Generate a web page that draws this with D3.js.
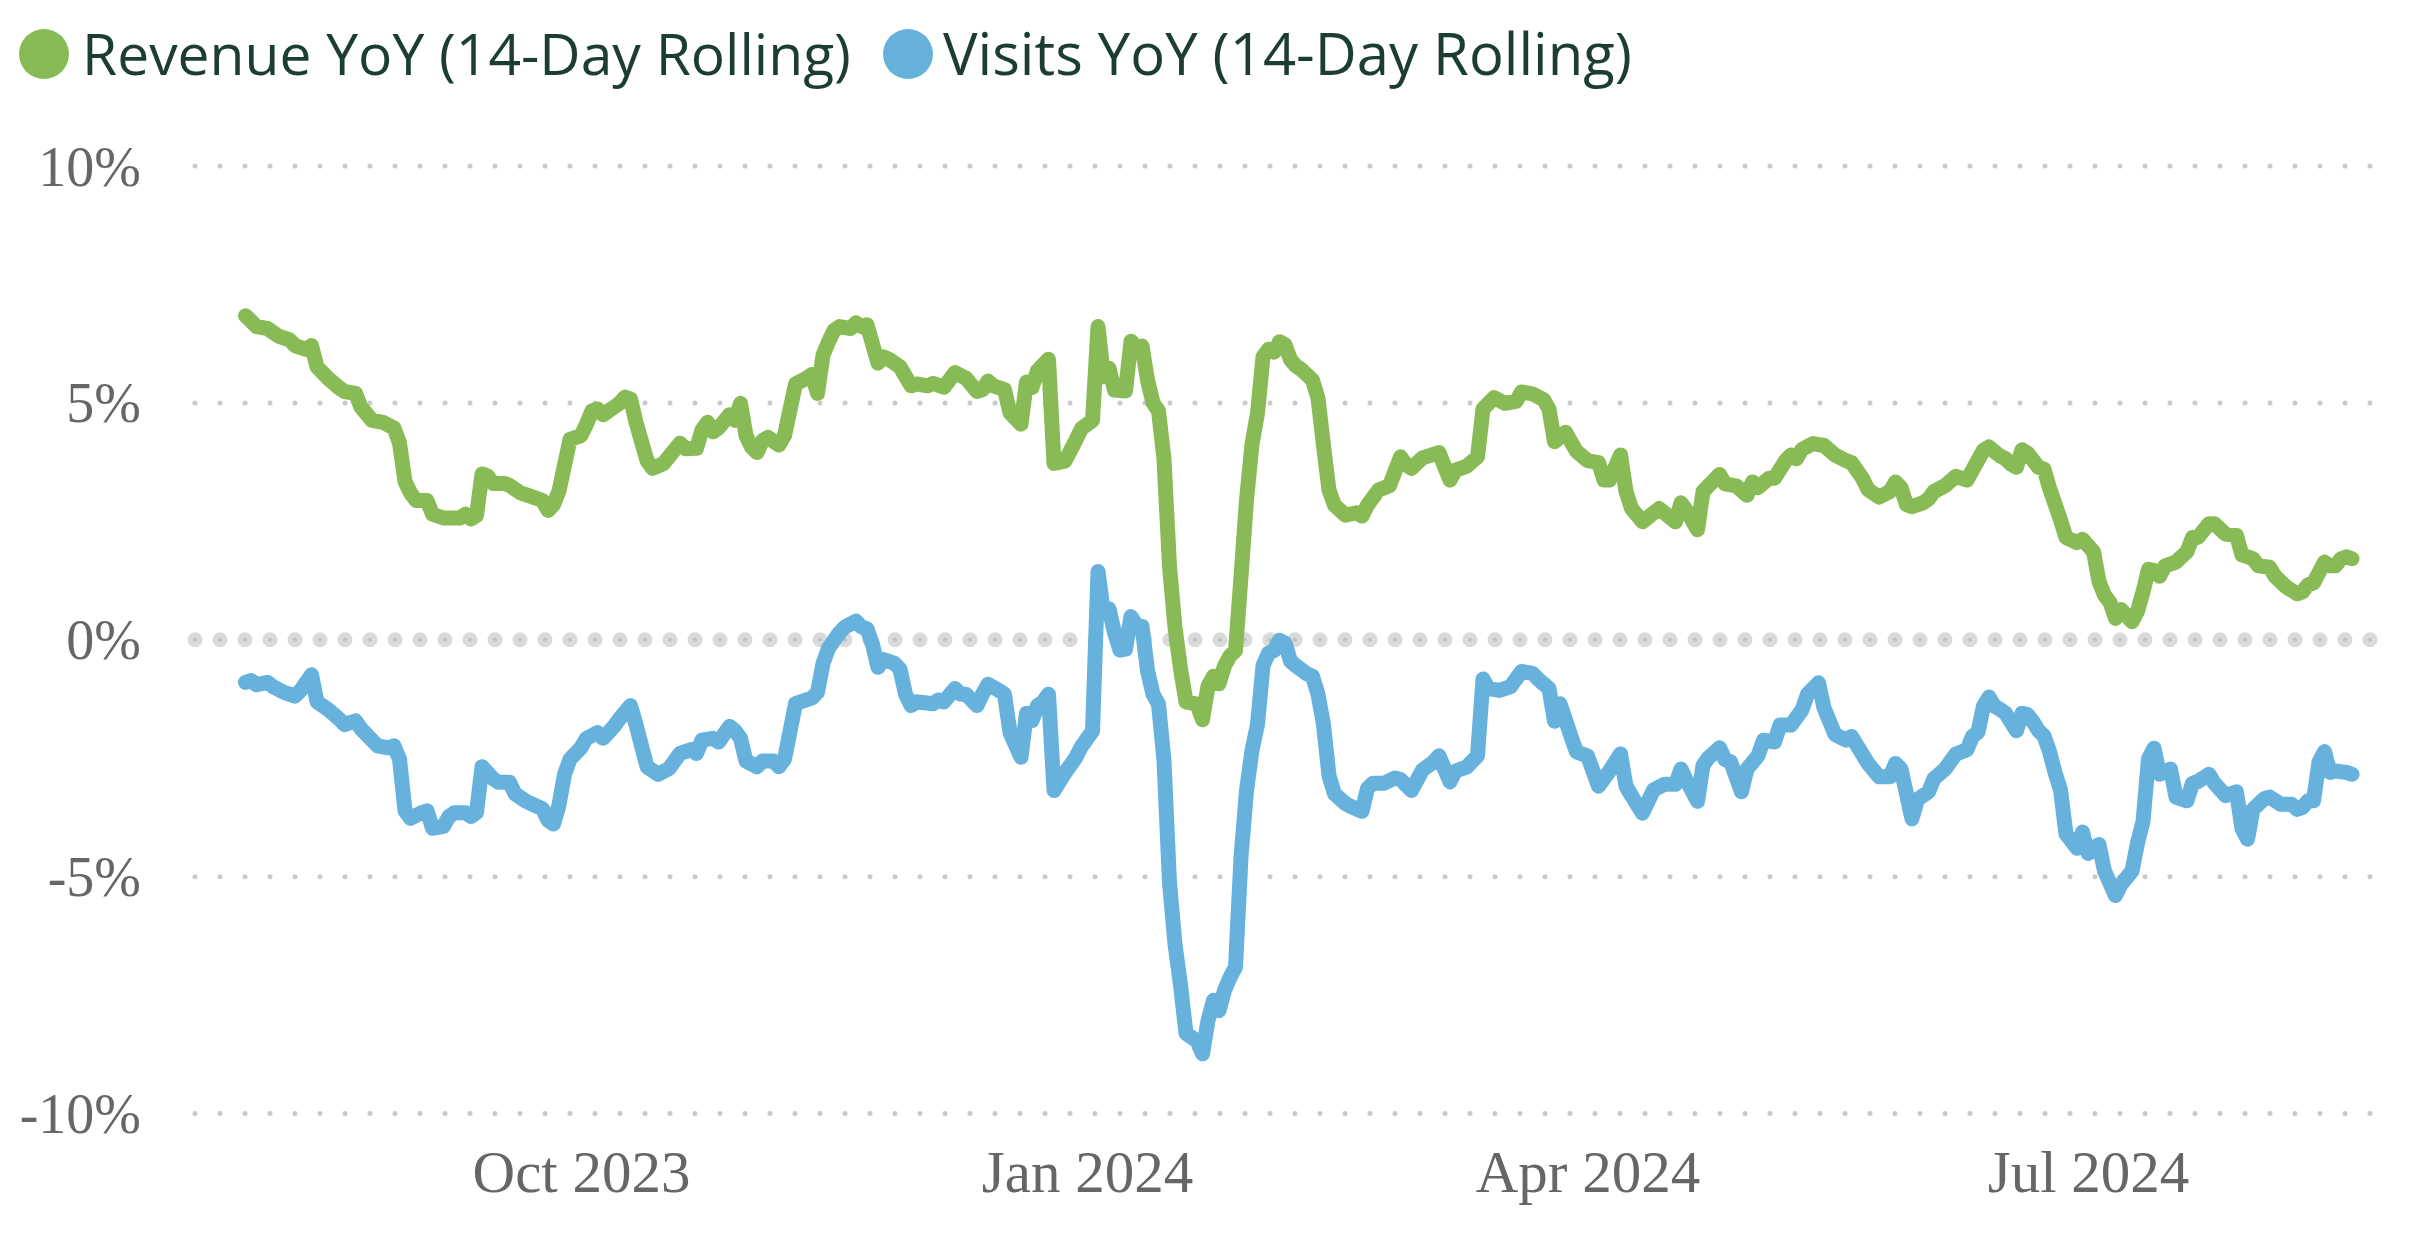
<!DOCTYPE html>
<html><head><meta charset="utf-8">
<script src="https://cdn.jsdelivr.net/npm/d3@7"></script>
<style>html,body{margin:0;padding:0;background:#fff;} svg{display:block}</style>
</head><body>
<svg id="chart" width="2428" height="1234"></svg>
<script>
const seriesNames = ["Revenue YoY (14-Day Rolling)", "Visits YoY (14-Day Rolling)"];
const seriesColors = ["#88bb55", "#66b2dd"];
const yTicks = [-10, -5, 0, 5, 10];
const xTicks = ["2023-10-01", "2024-01-01", "2024-04-01", "2024-07-01"];

const revenueYoY = [
["2023-08-01",6.84],["2023-08-02",6.73],["2023-08-03",6.61],["2023-08-05",6.57],["2023-08-07",6.41],["2023-08-09",6.33],["2023-08-10",6.21],["2023-08-12",6.13],["2023-08-13",6.21],["2023-08-14",5.76],["2023-08-16",5.52],["2023-08-18",5.32],["2023-08-19",5.24],["2023-08-21",5.20],["2023-08-22",4.91],["2023-08-24",4.63],["2023-08-26",4.59],["2023-08-28",4.47],["2023-08-29",4.15],["2023-08-30",3.34],["2023-08-31",3.10],
["2023-09-01",2.94],["2023-09-03",2.94],["2023-09-04",2.65],["2023-09-06",2.57],["2023-09-09",2.57],["2023-09-10",2.65],["2023-09-11",2.55],["2023-09-12",2.62],["2023-09-13",3.50],["2023-09-14",3.46],["2023-09-15",3.30],["2023-09-17",3.30],["2023-09-18",3.26],["2023-09-20",3.10],["2023-09-22",3.02],["2023-09-24",2.94],["2023-09-25",2.73],["2023-09-26",2.85],["2023-09-27",3.14],["2023-09-29",4.23],
["2023-10-01",4.31],["2023-10-02",4.55],["2023-10-03",4.83],["2023-10-04",4.87],["2023-10-05",4.75],["2023-10-07",4.91],["2023-10-08",4.99],["2023-10-09",5.12],["2023-10-10",5.08],["2023-10-11",4.59],["2023-10-13",3.78],["2023-10-14",3.62],["2023-10-16",3.72],["2023-10-19",4.15],["2023-10-20",4.03],["2023-10-22",4.04],["2023-10-23",4.43],["2023-10-24",4.59],["2023-10-25",4.39],["2023-10-26",4.47],["2023-10-28",4.75],["2023-10-29",4.63],["2023-10-30",4.99],["2023-10-31",4.31],
["2023-11-01",4.07],["2023-11-02",3.95],["2023-11-03",4.20],["2023-11-04",4.27],["2023-11-06",4.11],["2023-11-07",4.31],["2023-11-09",5.40],["2023-11-11",5.52],["2023-11-12",5.60],["2023-11-13",5.20],["2023-11-14",6.01],["2023-11-15",6.29],["2023-11-16",6.53],["2023-11-17",6.61],["2023-11-19",6.57],["2023-11-20",6.69],["2023-11-21",6.61],["2023-11-22",6.65],["2023-11-24",5.84],["2023-11-25",5.97],["2023-11-26",5.92],["2023-11-28",5.76],["2023-11-30",5.36],
["2023-12-01",5.40],["2023-12-03",5.36],["2023-12-04",5.41],["2023-12-06",5.33],["2023-12-08",5.64],["2023-12-10",5.52],["2023-12-12",5.24],["2023-12-13",5.28],["2023-12-14",5.46],["2023-12-15",5.36],["2023-12-17",5.28],["2023-12-18",4.79],["2023-12-20",4.55],["2023-12-21",5.44],["2023-12-22",5.32],["2023-12-23",5.68],["2023-12-25",5.92],["2023-12-26",3.72],["2023-12-28",3.77],["2023-12-30",4.22],["2023-12-31",4.46],
["2024-01-02",4.63],["2024-01-03",6.61],["2024-01-04",5.55],["2024-01-05",5.73],["2024-01-06",5.27],["2024-01-08",5.25],["2024-01-09",6.30],["2024-01-10",6.18],["2024-01-11",6.20],["2024-01-12",5.48],["2024-01-13",5.00],["2024-01-14",4.83],["2024-01-15",3.81],["2024-01-16",1.55],["2024-01-17",0.26],["2024-01-18",-0.61],["2024-01-19",-1.31],["2024-01-21",-1.36],["2024-01-22",-1.69],["2024-01-23",-0.98],["2024-01-24",-0.77],["2024-01-25",-0.93],["2024-01-26",-0.55],["2024-01-27",-0.34],["2024-01-28",-0.23],["2024-01-29",1.33],["2024-01-30",2.95],["2024-01-31",4.13],
["2024-02-01",4.78],["2024-02-02",5.97],["2024-02-03",6.13],["2024-02-04",6.07],["2024-02-05",6.29],["2024-02-06",6.23],["2024-02-07",5.91],["2024-02-08",5.78],["2024-02-09",5.70],["2024-02-10",5.59],["2024-02-11",5.48],["2024-02-12",5.10],["2024-02-13",4.10],["2024-02-14",3.16],["2024-02-15",2.84],["2024-02-17",2.63],["2024-02-19",2.68],["2024-02-20",2.61],["2024-02-21",2.84],["2024-02-23",3.16],["2024-02-25",3.25],["2024-02-27",3.86],["2024-02-28",3.70],["2024-02-29",3.62],
["2024-03-02",3.84],["2024-03-05",3.95],["2024-03-07",3.37],["2024-03-08",3.58],["2024-03-10",3.66],["2024-03-12",3.86],["2024-03-13",4.87],["2024-03-15",5.11],["2024-03-17",4.99],["2024-03-19",5.03],["2024-03-20",5.23],["2024-03-22",5.19],["2024-03-24",5.07],["2024-03-25",4.87],["2024-03-26",4.18],["2024-03-28",4.38],["2024-03-30",3.98],
["2024-04-01",3.78],["2024-04-03",3.74],["2024-04-04",3.37],["2024-04-05",3.37],["2024-04-07",3.90],["2024-04-08",3.13],["2024-04-09",2.77],["2024-04-11",2.49],["2024-04-14",2.77],["2024-04-17",2.49],["2024-04-18",2.89],["2024-04-19",2.73],["2024-04-21",2.32],["2024-04-22",3.13],["2024-04-25",3.49],["2024-04-26",3.29],["2024-04-28",3.25],["2024-04-30",3.05],
["2024-05-01",3.33],["2024-05-02",3.21],["2024-05-04",3.41],["2024-05-05",3.41],["2024-05-07",3.78],["2024-05-08",3.90],["2024-05-09",3.82],["2024-05-10",4.02],["2024-05-12",4.14],["2024-05-14",4.10],["2024-05-16",3.90],["2024-05-18",3.78],["2024-05-19",3.74],["2024-05-21",3.41],["2024-05-22",3.17],["2024-05-24",3.01],["2024-05-26",3.13],["2024-05-27",3.33],["2024-05-28",3.21],["2024-05-29",2.85],["2024-05-30",2.81],
["2024-06-01",2.89],["2024-06-02",2.97],["2024-06-03",3.13],["2024-06-05",3.25],["2024-06-07",3.45],["2024-06-09",3.37],["2024-06-10",3.58],["2024-06-12",4.00],["2024-06-13",4.07],["2024-06-15",3.88],["2024-06-16",3.82],["2024-06-17",3.71],["2024-06-18",3.64],["2024-06-19",4.01],["2024-06-20",3.94],["2024-06-21",3.79],["2024-06-22",3.64],["2024-06-23",3.60],["2024-06-24",3.20],["2024-06-26",2.53],["2024-06-27",2.16],["2024-06-29",2.05],["2024-06-30",2.12],
["2024-07-02",1.86],["2024-07-03",1.23],["2024-07-04",0.94],["2024-07-05",0.79],["2024-07-06",0.45],["2024-07-07",0.64],["2024-07-09",0.38],["2024-07-10",0.60],["2024-07-11",1.01],["2024-07-12",1.49],["2024-07-13",1.46],["2024-07-14",1.34],["2024-07-15",1.56],["2024-07-17",1.64],["2024-07-19",1.86],["2024-07-20",2.16],["2024-07-21",2.16],["2024-07-23",2.45],["2024-07-24",2.45],["2024-07-26",2.23],["2024-07-28",2.20],["2024-07-29",1.79],["2024-07-31",1.71],
["2024-08-01",1.56],["2024-08-03",1.53],["2024-08-04",1.34],["2024-08-06",1.12],["2024-08-08",0.97],["2024-08-09",1.01],["2024-08-10",1.16],["2024-08-11",1.20],["2024-08-13",1.64],["2024-08-14",1.56],["2024-08-15",1.56],["2024-08-16",1.71],["2024-08-17",1.75],["2024-08-18",1.71]
];

const visitsYoY = [
["2023-08-01",-0.90],["2023-08-02",-0.86],["2023-08-03",-0.95],["2023-08-05",-0.90],["2023-08-06",-0.99],["2023-08-08",-1.11],["2023-08-10",-1.19],["2023-08-11",-1.07],["2023-08-13",-0.74],["2023-08-14",-1.31],["2023-08-16",-1.47],["2023-08-18",-1.67],["2023-08-19",-1.79],["2023-08-21",-1.71],["2023-08-22",-1.88],["2023-08-25",-2.24],["2023-08-27",-2.28],["2023-08-28",-2.24],["2023-08-29",-2.52],["2023-08-30",-3.61],["2023-08-31",-3.77],
["2023-09-02",-3.65],["2023-09-03",-3.61],["2023-09-04",-3.98],["2023-09-06",-3.94],["2023-09-07",-3.73],["2023-09-08",-3.65],["2023-09-10",-3.65],["2023-09-11",-3.73],["2023-09-12",-3.65],["2023-09-13",-2.68],["2023-09-15",-2.93],["2023-09-16",-3.01],["2023-09-18",-3.01],["2023-09-19",-3.25],["2023-09-21",-3.41],["2023-09-24",-3.57],["2023-09-25",-3.81],["2023-09-26",-3.89],["2023-09-27",-3.49],["2023-09-28",-2.84],["2023-09-29",-2.52],
["2023-10-01",-2.28],["2023-10-02",-2.08],["2023-10-04",-1.96],["2023-10-05",-2.08],["2023-10-07",-1.83],["2023-10-08",-1.67],["2023-10-10",-1.39],["2023-10-11",-1.79],["2023-10-13",-2.68],["2023-10-15",-2.84],["2023-10-17",-2.72],["2023-10-19",-2.40],["2023-10-21",-2.32],["2023-10-22",-2.40],["2023-10-23",-2.12],["2023-10-25",-2.08],["2023-10-26",-2.16],["2023-10-28",-1.83],["2023-10-29",-1.92],["2023-10-30",-2.08],["2023-10-31",-2.56],
["2023-11-02",-2.68],["2023-11-03",-2.56],["2023-11-05",-2.56],["2023-11-06",-2.68],["2023-11-07",-2.52],["2023-11-09",-1.35],["2023-11-12",-1.23],["2023-11-13",-1.11],["2023-11-14",-0.50],["2023-11-15",-0.18],["2023-11-17",0.15],["2023-11-18",0.27],["2023-11-20",0.39],["2023-11-21",0.27],["2023-11-22",0.23],["2023-11-23",-0.10],["2023-11-24",-0.58],["2023-11-25",-0.42],["2023-11-27",-0.50],["2023-11-28",-0.62],["2023-11-29",-1.15],["2023-11-30",-1.39],
["2023-12-01",-1.31],["2023-12-04",-1.35],["2023-12-05",-1.27],["2023-12-06",-1.31],["2023-12-08",-1.03],["2023-12-09",-1.15],["2023-12-10",-1.15],["2023-12-12",-1.39],["2023-12-13",-1.15],["2023-12-14",-0.94],["2023-12-16",-1.07],["2023-12-17",-1.15],["2023-12-18",-1.96],["2023-12-20",-2.48],["2023-12-21",-1.55],["2023-12-22",-1.71],["2023-12-23",-1.39],["2023-12-24",-1.31],["2023-12-25",-1.15],["2023-12-26",-3.18],["2023-12-28",-2.81],["2023-12-30",-2.48],["2023-12-31",-2.25],
["2024-01-02",-1.93],["2024-01-03",1.44],["2024-01-04",0.57],["2024-01-05",0.65],["2024-01-06",0.15],["2024-01-07",-0.22],["2024-01-08",-0.20],["2024-01-09",0.49],["2024-01-10",0.30],["2024-01-11",0.28],["2024-01-12",-0.65],["2024-01-13",-1.15],["2024-01-14",-1.36],["2024-01-15",-2.55],["2024-01-16",-5.13],["2024-01-17",-6.43],["2024-01-18",-7.29],["2024-01-19",-8.31],["2024-01-21",-8.47],["2024-01-22",-8.74],["2024-01-23",-8.04],["2024-01-24",-7.61],["2024-01-25",-7.83],["2024-01-26",-7.40],["2024-01-27",-7.13],["2024-01-28",-6.91],["2024-01-29",-4.59],["2024-01-30",-3.19],["2024-01-31",-2.33],
["2024-02-01",-1.79],["2024-02-02",-0.55],["2024-02-03",-0.28],["2024-02-04",-0.23],["2024-02-05",-0.01],["2024-02-06",-0.07],["2024-02-07",-0.45],["2024-02-08",-0.55],["2024-02-10",-0.72],["2024-02-11",-0.77],["2024-02-12",-1.15],["2024-02-13",-1.79],["2024-02-14",-2.87],["2024-02-15",-3.25],["2024-02-17",-3.46],["2024-02-18",-3.52],["2024-02-20",-3.62],["2024-02-21",-3.14],["2024-02-22",-3.03],["2024-02-24",-3.03],["2024-02-26",-2.92],["2024-02-27",-2.95],["2024-02-29",-3.18],
["2024-03-02",-2.75],["2024-03-04",-2.58],["2024-03-05",-2.45],["2024-03-07",-3.00],["2024-03-08",-2.77],["2024-03-10",-2.69],["2024-03-12",-2.45],["2024-03-13",-0.83],["2024-03-14",-1.03],["2024-03-16",-1.07],["2024-03-18",-0.99],["2024-03-20",-0.67],["2024-03-22",-0.71],["2024-03-23",-0.83],["2024-03-25",-1.03],["2024-03-26",-1.72],["2024-03-27",-1.35],["2024-03-29",-2.04],["2024-03-30",-2.37],
["2024-04-01",-2.45],["2024-04-03",-3.09],["2024-04-05",-2.77],["2024-04-07",-2.41],["2024-04-08",-3.09],["2024-04-09",-3.29],["2024-04-11",-3.66],["2024-04-13",-3.17],["2024-04-15",-3.05],["2024-04-17",-3.05],["2024-04-18",-2.73],["2024-04-19",-2.97],["2024-04-21",-3.41],["2024-04-22",-2.65],["2024-04-23",-2.49],["2024-04-25",-2.28],["2024-04-26",-2.53],["2024-04-27",-2.57],["2024-04-29",-3.21],["2024-04-30",-2.73],
["2024-05-02",-2.45],["2024-05-03",-2.12],["2024-05-05",-2.16],["2024-05-06",-1.80],["2024-05-08",-1.80],["2024-05-10",-1.48],["2024-05-11",-1.15],["2024-05-13",-0.91],["2024-05-14",-1.44],["2024-05-16",-2.00],["2024-05-18",-2.12],["2024-05-19",-2.04],["2024-05-22",-2.61],["2024-05-24",-2.89],["2024-05-26",-2.89],["2024-05-27",-2.61],["2024-05-28",-2.73],["2024-05-30",-3.78],["2024-05-31",-3.37],
["2024-06-02",-3.21],["2024-06-03",-2.93],["2024-06-05",-2.73],["2024-06-07",-2.41],["2024-06-09",-2.32],["2024-06-10",-2.04],["2024-06-11",-1.95],["2024-06-12",-1.40],["2024-06-13",-1.21],["2024-06-14",-1.40],["2024-06-15",-1.47],["2024-06-16",-1.55],["2024-06-18",-1.92],["2024-06-19",-1.55],["2024-06-20",-1.58],["2024-06-21",-1.73],["2024-06-22",-1.92],["2024-06-23",-2.03],["2024-06-24",-2.36],["2024-06-25",-2.80],["2024-06-26",-3.17],["2024-06-27",-4.10],["2024-06-29",-4.40],["2024-06-30",-4.06],
["2024-07-01",-4.51],["2024-07-03",-4.32],["2024-07-04",-4.88],["2024-07-06",-5.40],["2024-07-07",-5.17],["2024-07-09",-4.88],["2024-07-10",-4.29],["2024-07-11",-3.84],["2024-07-12",-2.51],["2024-07-13",-2.29],["2024-07-14",-2.84],["2024-07-16",-2.73],["2024-07-17",-3.32],["2024-07-19",-3.40],["2024-07-20",-3.03],["2024-07-21",-2.99],["2024-07-23",-2.84],["2024-07-24",-3.03],["2024-07-26",-3.29],["2024-07-28",-3.21],["2024-07-29",-3.99],["2024-07-30",-4.21],["2024-07-31",-3.58],
["2024-08-02",-3.36],["2024-08-03",-3.32],["2024-08-05",-3.47],["2024-08-07",-3.47],["2024-08-08",-3.58],["2024-08-09",-3.54],["2024-08-10",-3.40],["2024-08-11",-3.40],["2024-08-12",-2.58],["2024-08-13",-2.36],["2024-08-14",-2.80],["2024-08-15",-2.77],["2024-08-17",-2.80],["2024-08-18",-2.84]
];

const svg = d3.select("#chart");
const parse = d3.utcParse("%Y-%m-%d");

const x = d3.scaleUtc()
  .domain([parse("2023-10-01"), parse("2024-07-01")])
  .range([581, 2088]);
const y = d3.scaleLinear().domain([-10, 10]).range([1113.5, 166]);
const gridX0 = 195, gridX1 = 2395;

svg.append("rect").attr("width", 2428).attr("height", 1234).attr("fill", "#fff");

// zero line (thick light dots)
svg.append("line")
  .attr("x1", gridX0).attr("x2", gridX1)
  .attr("y1", y(0)).attr("y2", y(0))
  .attr("stroke", "#dadada").attr("stroke-width", 15)
  .attr("stroke-linecap", "round").attr("stroke-dasharray", "0 25");

// gridlines (small dots)
svg.append("g").selectAll("line").data(yTicks).join("line")
  .attr("x1", gridX0).attr("x2", gridX1)
  .attr("y1", d => y(d)).attr("y2", d => y(d))
  .attr("stroke", d => d === 0 ? "#c0c0c0" : "#cacaca")
  .attr("stroke-width", d => d === 0 ? 4 : 5)
  .attr("stroke-linecap", "round").attr("stroke-dasharray", "0 25");

// Y axis
const yAxis = svg.append("g").attr("transform", "translate(141,0)")
  .call(d3.axisLeft(y).tickValues(yTicks).tickFormat(d => d + "%").tickSize(0).tickPadding(0));
yAxis.select(".domain").remove();
yAxis.selectAll("text")
  .attr("font-family", "'Liberation Serif', 'Times New Roman', serif")
  .attr("font-size", 56).attr("fill", "#666666").attr("dy", "0.34em");

// X axis
const xAxis = svg.append("g").attr("transform", "translate(0,1150)")
  .call(d3.axisBottom(x).tickValues(xTicks.map(parse)).tickFormat(d3.utcFormat("%b %Y")).tickSize(0).tickPadding(0));
xAxis.select(".domain").remove();
xAxis.selectAll("text")
  .attr("font-family", "'Liberation Serif', 'Times New Roman', serif")
  .attr("font-size", 59).attr("fill", "#666666").attr("dy", "0.71em");

// lines
const line = d3.line().x(d => x(parse(d[0]))).y(d => y(d[1])).curve(d3.curveLinear);
[revenueYoY, visitsYoY].forEach((s, i) => {
  svg.append("path").datum(s)
    .attr("d", line)
    .attr("fill", "none")
    .attr("stroke", seriesColors[i])
    .attr("stroke-width", 15)
    .attr("stroke-linejoin", "round")
    .attr("stroke-linecap", "round");
});

// legend
const legendPos = [{cx: 44, tx: 82, w: 769}, {cx: 908, tx: 943, w: 689}];
seriesNames.forEach((name, i) => {
  const p = legendPos[i];
  svg.append("circle").attr("cx", p.cx).attr("cy", 54).attr("r", 25).attr("fill", seriesColors[i]);
  const t = svg.append("text").attr("x", p.tx).attr("y", 75)
    .attr("font-family", "'Segoe UI', 'Open Sans', 'Noto Sans', sans-serif")
    .attr("font-size", 60).attr("fill", "#1c3e31").text(name);
  const natural = t.node().getComputedTextLength();
  if (natural > 0) t.attr("font-size", 60 * p.w / natural);
});
</script>
</body></html>
